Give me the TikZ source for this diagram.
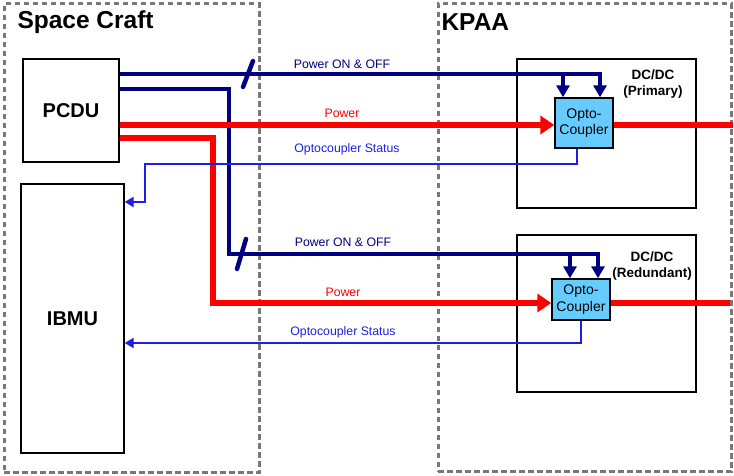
\documentclass[tikz,border=0pt]{standalone}
\usepackage{fontspec}
\setmainfont{Liberation Sans}
\setsansfont{Liberation Sans}
\usetikzlibrary{positioning,arrows.meta,calc}

\definecolor{navyline}{RGB}{0,0,128}
\definecolor{redline}{RGB}{255,0,0}
\definecolor{statline}{RGB}{30,30,230}
\definecolor{optofill}{RGB}{102,204,255}
\definecolor{framegray}{RGB}{120,120,120}

\begin{document}
\begin{tikzpicture}[
  x=1pt, y=1pt,
  font=\sffamily,
  frame/.style ={draw=framegray, line width=3pt, dash pattern=on 5.5pt off 3.5pt,
                 inner sep=0pt},
  unit/.style  ={draw, line width=1.4pt, inner sep=0pt,
                 font=\sffamily\bfseries\fontsize{20}{22}\selectfont},
  dcbox/.style ={draw, line width=1.4pt, inner sep=0pt,
                 minimum width=179pt},
  opto/.style  ={draw, fill=optofill, line width=1.4pt, inner sep=0pt,
                 minimum width=58pt, align=center,
                 font=\sffamily\fontsize{14}{16.5}\selectfont},
  title/.style ={anchor=west, font=\sffamily\bfseries\fontsize{24.5}{28}\selectfont},
  dclabel/.style={align=center, font=\sffamily\bfseries\fontsize{13.5}{16}\selectfont},
  sig/.style   ={font=\sffamily\fontsize{12.3}{14}\selectfont},
  ctrl/.style  ={draw=navyline, line width=4.5pt,
                 -{Triangle[length=12pt,width=13pt]}},
  pwr/.style   ={draw=redline, line width=5.5pt,
                 -{Triangle[length=14pt,width=18pt]}},
  stat/.style  ={draw=statline, line width=2.5pt,
                 -{Triangle[length=9pt,width=10pt]}},
  slash/.style ={draw=navyline, line width=4.5pt, line cap=round},
]
\useasboundingbox (0,0) rectangle (734,476);

% frames
\node[frame, minimum width=255pt, minimum height=469pt] (craft) at (131.5,237.5) {};
\node[frame, minimum width=293pt, minimum height=468pt] (kpaa)  at (584.5,238) {};
\node[title] (crafttitle) at (14,454) {Space Craft};
\node[title] (kpaatitle)  at (438,454) {KPAA};

% space craft units
\node[unit, minimum width=96pt,  minimum height=103pt] (pcdu) at (71,365.5)  {PCDU};
\node[unit, minimum width=103pt, minimum height=269pt] (ibmu) at (72.5,157.5) {IBMU};

% dc/dc converters
\node[dcbox, minimum height=149pt] (dcA) at (606.5,342.5) {};
\node[dcbox, minimum height=157pt] (dcB) at (606.5,162.5) {};
\node[dclabel] (dcAlabel) at (653,392) {DC/DC\\(Primary)};
\node[dclabel] (dcBlabel) at (652,210) {DC/DC\\(Redundant)};

\node[opto, minimum height=50pt] (optoA) at (584,353)   {Opto-\\Coupler};
\node[opto, minimum height=41pt] (optoB) at (581,176.5) {Opto-\\Coupler};

% line taps
\coordinate (ctlA) at ([yshift=36.5pt]pcdu.east);
\coordinate (ctlB) at ([yshift=21.5pt]pcdu.east);
\coordinate (pwrA) at ([yshift=-14.5pt]pcdu.east);
\coordinate (pwrB) at ([yshift=-27.5pt]pcdu.east);
\coordinate (ctlBbend) at (229,222);
\coordinate (pwrBbend) at (213,173);
\coordinate (inA1) at ([xshift=-21pt]optoA.north);
\coordinate (inA2) at ([xshift=16pt]optoA.north);
\coordinate (inB1) at ([xshift=-11pt]optoB.north);
\coordinate (inB2) at ([xshift=17pt]optoB.north);
\coordinate (stA) at ([xshift=-7pt]optoA.south);
\coordinate (stAbend) at (145,312);
\coordinate (stAin) at ([yshift=116.5pt]ibmu.east);
\coordinate (stBin) at ([yshift=-24.5pt]ibmu.east);

% power on/off
\draw[ctrl] (ctlA) -| (inA2);
\draw[ctrl] (inA1 |- ctlA) -- (inA1);
\draw[ctrl] (ctlB) -| (ctlBbend) -| (inB2);
\draw[ctrl] (inB1 |- ctlBbend) -- (inB1);
\draw[slash] (248,402) ++(-5,-13) -- ++(10,26);
\draw[slash] (241.5,222) ++(-4.5,-15) -- ++(9,30);

% power
\draw[pwr] (pwrA) -- (pwrA -| optoA.west);
\draw[pwr] (pwrB) -| (pwrBbend) -- (pwrBbend -| optoB.west);
\draw[pwr, -] (pwrA -| optoA.east) -- (pwrA -| kpaa.east);
\draw[pwr, -] (pwrBbend -| optoB.east) -- ([xshift=-3pt]pwrBbend -| kpaa.east);

% status
\draw[stat] (stA) |- (stAbend) |- (stAin);
\draw[stat] (optoB.south) |- (stBin);

% signal labels
\node[sig, text=navyline] (ctlAlabel) at (342,412) {Power ON \& OFF};
\node[sig, text=redline]  (pwrAlabel) at (342,363) {Power};
\node[sig, text=statline] (stAlabel)  at (347,327) {Optocoupler Status};
\node[sig, text=navyline] (ctlBlabel) at (343,234) {Power ON \& OFF};
\node[sig, text=redline]  (pwrBlabel) at (343,184) {Power};
\node[sig, text=statline] (stBlabel)  at (343,144) {Optocoupler Status};

\end{tikzpicture}
\end{document}
